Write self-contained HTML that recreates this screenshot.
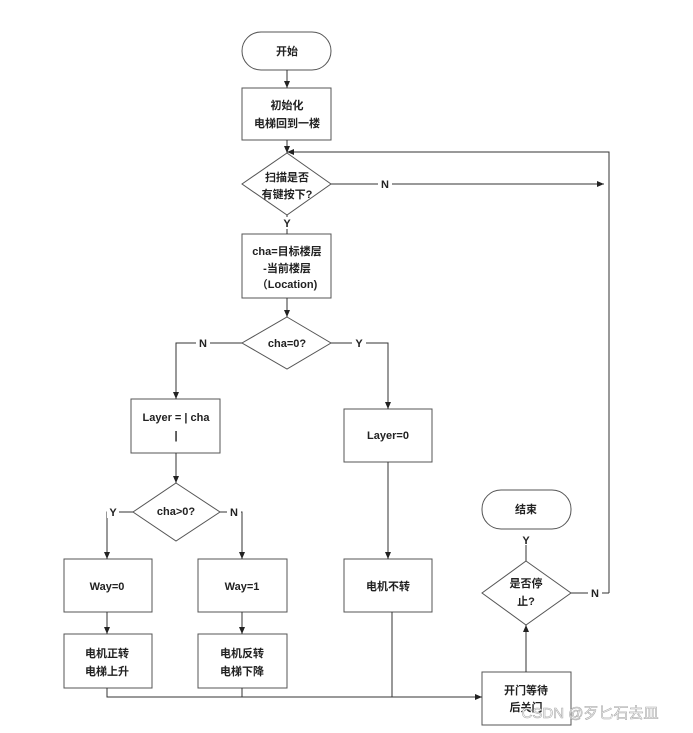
<!DOCTYPE html>
<html><head><meta charset="utf-8"><style>
html,body{margin:0;padding:0;background:#fff;width:693px;height:733px;overflow:hidden}
svg text{font-family:"Liberation Sans","Noto Sans CJK SC",sans-serif;font-size:11px;font-weight:bold;fill:#222;text-anchor:middle}
</style></head><body>
<svg width="693" height="733" viewBox="0 0 693 733" xmlns="http://www.w3.org/2000/svg">
<defs><marker id="a" markerWidth="8" markerHeight="8" refX="7" refY="4" orient="auto" markerUnits="userSpaceOnUse"><path d="M0,1 L7,4 L0,7 z" fill="#222"/></marker></defs>
<g fill="none" stroke="#555" stroke-width="1">
<rect x="242" y="32" width="89" height="38" rx="19" fill="#fff"/>
<rect x="242" y="88" width="89" height="52" fill="#fff"/>
<polygon points="287,153 331,184 287,215 242,184" fill="#fff"/>
<rect x="242" y="234" width="89" height="64" fill="#fff"/>
<polygon points="287,317 331,343 287,369 242,343" fill="#fff"/>
<rect x="131" y="399" width="89" height="54" fill="#fff"/>
<rect x="344" y="409" width="88" height="53" fill="#fff"/>
<polygon points="176,483 220,512 176,541 133,512" fill="#fff"/>
<rect x="64" y="559" width="88" height="53" fill="#fff"/>
<rect x="198" y="559" width="89" height="53" fill="#fff"/>
<rect x="344" y="559" width="88" height="53" fill="#fff"/>
<rect x="64" y="634" width="88" height="54" fill="#fff"/>
<rect x="198" y="634" width="89" height="54" fill="#fff"/>
<rect x="482" y="490" width="89" height="39" rx="19" fill="#fff"/>
<polygon points="526,561 571,593 526,625 482,593" fill="#fff"/>
<rect x="482" y="672" width="89" height="53" fill="#fff"/>
</g>
<g fill="none" stroke="#333" stroke-width="1">
<line x1="287" y1="70" x2="287" y2="88" marker-end="url(#a)"/>
<line x1="287" y1="140" x2="287" y2="153" marker-end="url(#a)"/>
<polyline points="609,593 609,152 287,152" marker-end="url(#a)"/>
<line x1="331" y1="184" x2="604" y2="184" marker-end="url(#a)"/>
<line x1="287" y1="215" x2="287" y2="234"/>
<line x1="287" y1="298" x2="287" y2="317" marker-end="url(#a)"/>
<polyline points="242,343 176,343 176,399" marker-end="url(#a)"/>
<polyline points="331,343 388,343 388,409" marker-end="url(#a)"/>
<line x1="176" y1="453" x2="176" y2="483" marker-end="url(#a)"/>
<polyline points="133,512 107,512 107,559" marker-end="url(#a)"/>
<polyline points="220,512 242,512 242,559" marker-end="url(#a)"/>
<line x1="388" y1="462" x2="388" y2="559" marker-end="url(#a)"/>
<line x1="107" y1="612" x2="107" y2="634" marker-end="url(#a)"/>
<line x1="242" y1="612" x2="242" y2="634" marker-end="url(#a)"/>
<polyline points="107,688 107,697 482,697" marker-end="url(#a)"/>
<line x1="242" y1="688" x2="242" y2="697"/>
<line x1="392" y1="612" x2="392" y2="697"/>
<line x1="526" y1="672" x2="526" y2="625" marker-end="url(#a)"/>
<line x1="526" y1="561" x2="526" y2="545"/>
<line x1="571" y1="593" x2="609" y2="593"/>
</g>
<g>
<text x="287" y="55">开始</text>
<text x="287" y="109">初始化</text>
<text x="287" y="127">电梯回到一楼</text>
<text x="287" y="181">扫描是否</text>
<text x="287" y="198">有键按下?</text>
<rect x="378" y="178" width="14" height="12" fill="#fff"/><text x="385" y="188">N</text>
<rect x="281" y="217" width="12" height="12" fill="#fff"/><text x="287" y="227">Y</text>
<text x="287" y="255">cha=目标楼层</text>
<text x="287" y="272">-当前楼层</text>
<text x="287" y="288">（Location)</text>
<text x="287" y="347">cha=0?</text>
<rect x="196" y="337" width="14" height="12" fill="#fff"/><text x="203" y="347">N</text>
<rect x="352" y="337" width="14" height="12" fill="#fff"/><text x="359" y="347">Y</text>
<text x="176" y="421">Layer = | cha</text>
<text x="176" y="439">|</text>
<text x="388" y="439">Layer=0</text>
<text x="176" y="515">cha&gt;0?</text>
<rect x="107" y="506" width="12" height="12" fill="#fff"/><text x="113" y="516">Y</text>
<rect x="227" y="506" width="14" height="12" fill="#fff"/><text x="234" y="516">N</text>
<text x="107" y="590">Way=0</text>
<text x="242" y="590">Way=1</text>
<text x="388" y="590">电机不转</text>
<text x="107" y="657">电机正转</text>
<text x="107" y="675">电梯上升</text>
<text x="242" y="657">电机反转</text>
<text x="242" y="675">电梯下降</text>
<text x="526" y="513">结束</text>
<text x="526" y="544">Y</text>
<text x="526" y="587">是否停</text>
<text x="526" y="605">止?</text>
<rect x="588" y="587" width="14" height="12" fill="#fff"/><text x="595" y="597">N</text>
<text x="526" y="694">开门等待</text>
<text x="526" y="711">后关门</text>
<text x="590" y="718" style="font-weight:normal;font-size:15px;fill:#fff;stroke:#aaa;stroke-width:0.6">CSDN @歹匕石去皿</text>
</g>
</svg>
</body></html>
